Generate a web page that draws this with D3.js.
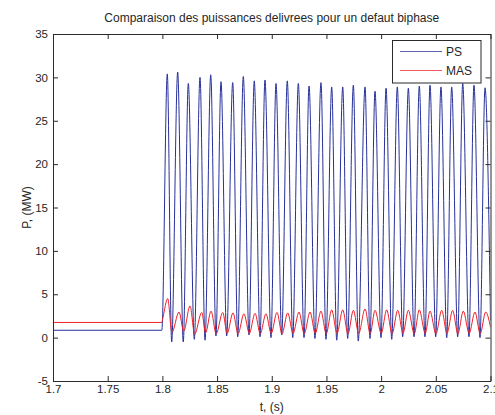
<!DOCTYPE html>
<html>
<head>
<meta charset="utf-8">
<script src="https://cdn.jsdelivr.net/npm/d3@7"></script>
<style>
  html, body { margin: 0; padding: 0; background: #ffffff; }
  svg { display: block; font-family: "Liberation Sans", Arial, sans-serif; }
</style>
</head>
<body>
<svg id="chart" width="495" height="415"></svg>
<script>
// ---- data ----
const titleText = "Comparaison des puissances delivrees pour un defaut biphase";
const xLabel = "t, (s)";
const yLabel = "P, (MW)";
const seriesNames = ["PS", "MAS"];

const xTicks = [1.7, 1.75, 1.8, 1.85, 1.9, 1.95, 2.0, 2.05, 2.1];
const xTickLabels = ["1.7", "1.75", "1.8", "1.85", "1.9", "1.95", "2", "2.05", "2.1"];
const yTicks = [-5, 0, 5, 10, 15, 20, 25, 30, 35];
const yTickLabels = ["-5", "0", "5", "10", "15", "20", "25", "30", "35"];

// PS : extrema of the waveform (time in s, power in MW)
const psTime = [1.7, 1.7995,
  1.8045, 1.8085, 1.8140, 1.8191, 1.8237, 1.8292, 1.8344, 1.8390, 1.8442, 1.8490,
  1.8536, 1.8588, 1.8643, 1.8689, 1.8740, 1.8792, 1.8840, 1.8893, 1.8938, 1.8993,
  1.9039, 1.9091, 1.9142, 1.9192, 1.9243, 1.9295, 1.9341, 1.9395, 1.9450, 1.9496,
  1.9548, 1.9594, 1.9649, 1.9694, 1.9746, 1.9791, 1.9853, 1.9898, 1.9944, 1.9999,
  2.0045, 2.0097, 2.0148, 2.0197, 2.0249, 2.0301, 2.0349, 2.0401, 2.0447, 2.0499,
  2.0547, 2.0600, 2.0645, 2.0700, 2.0746, 2.0803, 2.0849, 2.0904, 2.0950, 2.1];
const psValue = [0.85, 0.85,
  30.4, -0.5, 30.6, -0.5, 29.3, -0.2, 30.0, -0.3, 30.3, 0.2,
  29.5, 0.2, 29.4, 0.1, 30.1, 0.3, 29.6, 0.1, 29.7, 0.0,
  29.3, 0.3, 29.6, 0.0, 29.3, 0.0, 29.0, -0.1, 29.4, -0.2,
  28.9, -0.3, 28.9, -0.1, 29.1, -0.4, 28.9, -0.1, 28.4, 0.0,
  28.75, -0.2, 28.9, 0.1, 28.75, 0.1, 29.0, 0.1, 29.1, 0.1,
  28.9, 0.0, 28.9, 0.1, 29.3, 0.1, 29.1, 0.0, 28.8, 2.0];

// MAS : extrema of the waveform
const masTime = [1.7, 1.7995, 1.8005,
  1.8049, 1.8087, 1.8152, 1.8195, 1.8253, 1.8295, 1.8360, 1.8395, 1.8445, 1.8492,
  1.8552, 1.8592, 1.8646, 1.8692, 1.8746, 1.8795, 1.8847, 1.8895, 1.8947, 1.8995,
  1.9048, 1.9094, 1.9146, 1.9195, 1.9249, 1.9297, 1.9350, 1.9398, 1.9450, 1.9498,
  1.9548, 1.9597, 1.9649, 1.9697, 1.9746, 1.9795, 1.9853, 1.9900, 1.9944, 2.0001,
  2.0051, 2.0100, 2.0152, 2.0200, 2.0249, 2.0303, 2.0349, 2.0403, 2.0447, 2.0501,
  2.0554, 2.0602, 2.0654, 2.0702, 2.0751, 2.0805, 2.0858, 2.0906, 2.0956, 2.1];
const masValue = [1.75, 1.75, 2.3,
  4.5, 0.6, 2.95, 0.75, 3.65, 0.4, 2.9, 0.55, 3.05, 0.45,
  2.9, 0.5, 2.85, 0.45, 2.75, 0.5, 2.8, 0.45, 2.75, 0.5,
  2.9, 0.45, 2.85, 0.5, 2.95, 0.45, 2.95, 0.5, 3.05, 0.45,
  3.2, 0.5, 3.2, 0.45, 3.15, 0.5, 3.3, 0.45, 3.15, 0.5,
  3.2, 0.45, 3.15, 0.5, 3.15, 0.45, 3.2, 0.5, 3.05, 0.45,
  3.15, 0.5, 3.15, 0.45, 3.05, 0.5, 2.95, 0.45, 2.95, 1.2];

const seriesColors = ["#27319a", "#ee2027"];

// ---- layout ----
const svg = d3.select("#chart");
const L = 53, R = 490.5, T = 34, B = 381;
const x = d3.scaleLinear().domain([1.7, 2.1]).range([L, R]);
const y = d3.scaleLinear().domain([-5, 35]).range([B, T]);
const textColor = "#262626";
const axisColor = "#2a2a2a";

// plot background
svg.append("rect").attr("x", L).attr("y", T).attr("width", R - L).attr("height", B - T)
  .attr("fill", "#ffffff");

svg.append("clipPath").attr("id", "clip")
  .append("rect").attr("x", L).attr("y", T).attr("width", R - L).attr("height", B - T);

// series lines
const line = d3.line().x(d => x(d[0])).y(d => y(d[1])).curve(d3.curveMonotoneX);
const seriesData = [d3.zip(psTime, psValue), d3.zip(masTime, masValue)];
const gLines = svg.append("g").attr("clip-path", "url(#clip)");
seriesData.forEach((data, i) => {
  gLines.append("path").datum(data)
    .attr("fill", "none")
    .attr("stroke", seriesColors[i])
    .attr("stroke-width", 1)
    .attr("d", line);
});

// axes
function styleAxis(g) {
  g.selectAll("path.domain").attr("stroke", axisColor).attr("stroke-width", 1);
  g.selectAll(".tick line").attr("stroke", axisColor).attr("stroke-width", 1);
  g.selectAll(".tick text").attr("fill", textColor).style("font-size", "11.5px")
    .style("font-family", "'Liberation Sans', Arial, sans-serif");
}
const gx = svg.append("g").attr("transform", `translate(0,${B})`)
  .call(d3.axisBottom(x).tickValues(xTicks).tickFormat((d, i) => xTickLabels[i])
    .tickSizeInner(-5).tickSizeOuter(0).tickPadding(4));
styleAxis(gx);
const gxt = svg.append("g").attr("transform", `translate(0,${T})`)
  .call(d3.axisTop(x).tickValues(xTicks).tickFormat("").tickSizeInner(-5).tickSizeOuter(0));
styleAxis(gxt);
const gy = svg.append("g").attr("transform", `translate(${L},0)`)
  .call(d3.axisLeft(y).tickValues(yTicks).tickFormat((d, i) => yTickLabels[i])
    .tickSizeInner(-5).tickSizeOuter(0).tickPadding(5));
styleAxis(gy);
const gyr = svg.append("g").attr("transform", `translate(${R},0)`)
  .call(d3.axisRight(y).tickValues(yTicks).tickFormat("").tickSizeInner(-5).tickSizeOuter(0));
styleAxis(gyr);

// title and axis labels
svg.append("text").attr("x", (L + R) / 2).attr("y", 21.5).attr("text-anchor", "middle")
  .attr("fill", textColor).style("font-size", "12px").text(titleText);
svg.append("text").attr("x", (L + R) / 2).attr("y", 411).attr("text-anchor", "middle")
  .attr("fill", textColor).style("font-size", "12px").text(xLabel);
svg.append("text").attr("transform", `translate(31,${(T + B) / 2}) rotate(-90)`)
  .attr("text-anchor", "middle").attr("fill", textColor).style("font-size", "12px").text(yLabel);

// legend
const lg = svg.append("g");
lg.append("rect").attr("x", 392.5).attr("y", 40.5).attr("width", 88.5).attr("height", 42.5)
  .attr("fill", "#ffffff").attr("stroke", axisColor).attr("stroke-width", 1);
seriesNames.forEach((name, i) => {
  const yy = 51.5 + i * 19;
  lg.append("line").attr("x1", 400).attr("x2", 442).attr("y1", yy).attr("y2", yy)
    .attr("stroke", seriesColors[i]).attr("stroke-width", 1).attr("stroke-opacity", 0.75);
  lg.append("text").attr("x", 446).attr("y", yy + 4.3).attr("text-anchor", "start")
    .attr("fill", textColor).style("font-size", "12px").text(name);
});
</script>
</body>
</html>
